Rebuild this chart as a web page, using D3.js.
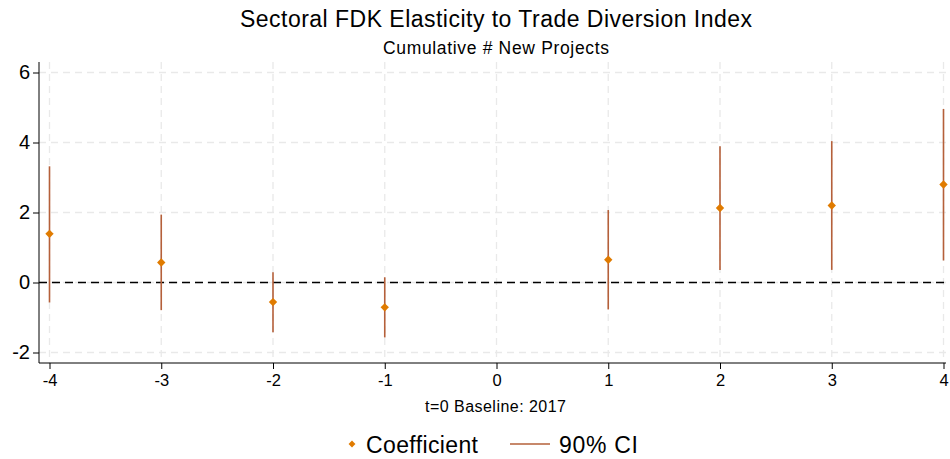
<!DOCTYPE html>
<html><head><meta charset="utf-8">
<script src="https://cdn.jsdelivr.net/npm/d3@7"></script>
<style>body{margin:0;background:#fff}svg{display:block}text{font-family:"Liberation Sans",Arial,Helvetica,sans-serif}</style>
</head><body><svg id="c" width="950" height="459"></svg>
<script>
const periods = [-4, -3, -2, -1, 1, 2, 3, 4];
const coef    = [1.39, 0.57, -0.56, -0.71, 0.65, 2.13, 2.20, 2.80];
const ciLow   = [-0.57, -0.79, -1.42, -1.57, -0.77, 0.36, 0.36, 0.63];
const ciHigh  = [3.32, 1.94, 0.29, 0.15, 2.07, 3.89, 4.04, 4.96];
const xTicks  = [-4, -3, -2, -1, 0, 1, 2, 3, 4];
const yTicks  = [-2, 0, 2, 4, 6];

const svg = d3.select("#c");
const L = 39, R = 946, T = 62, B = 363;
const x = d3.scaleLinear().domain([-4, 4]).range([49.5, 943.5]);
const y = d3.scaleLinear().domain([-2.3, 6.3]).range([B, T]);
const fmt = d => String(d);

// grid
svg.append("g").selectAll("line").data(yTicks).join("line")
  .attr("x1", L).attr("x2", R).attr("y1", d => y(d)).attr("y2", d => y(d))
  .attr("stroke", "#e9e9e9").attr("stroke-width", 1.3).attr("stroke-dasharray", "7,5");
svg.append("g").selectAll("line").data(xTicks).join("line")
  .attr("y1", T).attr("y2", B).attr("x1", d => x(d)).attr("x2", d => x(d))
  .attr("stroke", "#e9e9e9").attr("stroke-width", 1.3).attr("stroke-dasharray", "7,5");

// zero line
svg.append("line").attr("x1", L).attr("x2", R).attr("y1", y(0)).attr("y2", y(0))
  .attr("stroke", "#000").attr("stroke-width", 1.5).attr("stroke-dasharray", "8,5");

// axes
const yAxis = svg.append("g").attr("transform", `translate(${L},0)`)
  .call(d3.axisLeft(y).tickValues(yTicks).tickSize(6).tickPadding(3).tickFormat(fmt));
yAxis.select(".domain").attr("d", `M0,${T}V${B}`).attr("stroke", "#000");
yAxis.selectAll("text").attr("font-size", 20).attr("fill", "#000")
  .attr("font-family", "'Liberation Sans',Arial,sans-serif");

const xAxis = svg.append("g").attr("transform", `translate(0,${B})`)
  .call(d3.axisBottom(x).tickValues(xTicks).tickSize(6).tickPadding(5).tickFormat(fmt));
xAxis.select(".domain").attr("d", `M${L},0H${R}`).attr("stroke", "#000");
xAxis.selectAll("text").attr("font-size", 16.5).attr("fill", "#000")
  .attr("font-family", "'Liberation Sans',Arial,sans-serif");

const data = periods.map((p, i) => ({p, c: coef[i], lo: ciLow[i], hi: ciHigh[i]}));

// CI
svg.append("g").selectAll("line").data(data).join("line")
  .attr("x1", d => x(d.p)).attr("x2", d => x(d.p))
  .attr("y1", d => y(d.lo)).attr("y2", d => y(d.hi))
  .attr("stroke", "#b5603a").attr("stroke-width", 1.6);

// points
const diamond = d3.symbol().type(d3.symbolDiamond2).size(45);
svg.append("g").selectAll("path").data(data).join("path")
  .attr("d", diamond).attr("transform", d => `translate(${x(d.p)},${y(d.c)})`)
  .attr("fill", "#e07b00");

// titles
svg.append("text").attr("x", 496).attr("y", 27).attr("text-anchor", "middle")
  .attr("font-size", 23).attr("textLength", 512).attr("lengthAdjust", "spacing")
  .text("Sectoral FDK Elasticity to Trade Diversion Index");
svg.append("text").attr("x", 496).attr("y", 54).attr("text-anchor", "middle")
  .attr("font-size", 17.5).attr("textLength", 226).attr("lengthAdjust", "spacing")
  .text("Cumulative # New Projects");
svg.append("text").attr("x", 495.5).attr("y", 411.5).attr("text-anchor", "middle")
  .attr("font-size", 16).attr("textLength", 141).attr("lengthAdjust", "spacing")
  .text("t=0 Baseline: 2017");

// legend
const lg = svg.append("g");
lg.append("path").attr("d", d3.symbol().type(d3.symbolDiamond2).size(30)).attr("transform", "translate(352,444)").attr("fill", "#e07b00");
lg.append("text").attr("x", 366).attr("y", 453).attr("font-size", 23)
  .attr("textLength", 112).attr("lengthAdjust", "spacing").text("Coefficient");
lg.append("line").attr("x1", 510).attr("x2", 550).attr("y1", 444).attr("y2", 444).attr("stroke", "#b5603a").attr("stroke-width", 1.6);
lg.append("text").attr("x", 559).attr("y", 453).attr("font-size", 23)
  .attr("textLength", 79).attr("lengthAdjust", "spacing").text("90% CI");
</script></body></html>
